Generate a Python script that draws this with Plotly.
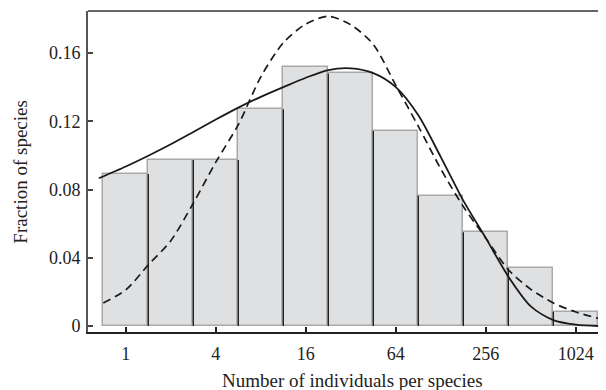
import numpy as np
import plotly.graph_objects as go

# Bin centres (number of individuals per species, octave bins)
bin_counts = [1, 2, 4, 8, 16, 32, 64, 128, 256, 512, 1024]
fractions = [0.0891, 0.0973, 0.0973, 0.127, 0.152, 0.148, 0.1143, 0.0764, 0.0549, 0.0338, 0.0084]

# Solid curve (x in log2 of individuals)
solid_x = [-0.6, 0.0, 0.5, 1.0, 1.5, 2.0, 2.5, 3.0, 3.5, 4.0, 4.5, 5.0, 5.5, 6.0, 6.5, 7.0, 7.5, 8.0,
           8.5, 9.0, 9.5, 10.0, 10.5]
solid_y = [0.0866, 0.0935, 0.0998, 0.1065, 0.1137, 0.1210, 0.1280, 0.1343, 0.1400, 0.1455, 0.1500, 0.1510,
           0.1482, 0.1400, 0.1235, 0.0990, 0.0735, 0.0515, 0.0290, 0.0115, 0.0035, 0.0008, 0.0]

# Dashed curve
dash_x = [-0.5, 0.0, 0.5, 1.0, 1.5, 2.0, 2.5, 3.0, 3.5, 4.0, 4.5, 5.0, 5.5, 6.0, 6.5, 7.0, 7.5, 8.0,
          8.5, 9.0, 9.5, 10.0, 10.5]
dash_y = [0.0135, 0.0212, 0.0358, 0.0500, 0.0720, 0.0960, 0.1180, 0.1460, 0.1660, 0.1770, 0.1815, 0.1765,
          0.1650, 0.1410, 0.1170, 0.0920, 0.0700, 0.0515, 0.0330, 0.0215, 0.0135, 0.0082, 0.0045]

x_tick_labels = ["1", "4", "16", "64", "256", "1024"]
y_tick_labels = ["0", "0.04", "0.08", "0.12", "0.16"]

xpos = np.log2(bin_counts)
x_tick_vals = np.log2([float(t) for t in x_tick_labels])
y_tick_vals = [float(t) for t in y_tick_labels]

FONT = "Liberation Serif"

fig = go.Figure()
fig.add_trace(go.Bar(
    x=xpos, y=fractions, width=1.0,
    marker=dict(color="#dfe0e2", line=dict(color="#a9a9a9", width=1.5)),
    showlegend=False, hoverinfo="skip"))

# dark dividers between adjacent bars (up to the lower of the two)
div_x, div_y = [], []
for i in range(len(fractions) - 1):
    xb = (xpos[i] + xpos[i + 1]) / 2
    div_x += [xb, xb, None]
    div_y += [0, min(fractions[i], fractions[i + 1]), None]
fig.add_trace(go.Scatter(x=div_x, y=div_y, mode="lines",
                         line=dict(color="#1a1a1a", width=1.3), showlegend=False, hoverinfo="skip"))

fig.add_trace(go.Scatter(x=solid_x, y=solid_y, mode="lines", line_shape="spline",
                         line=dict(color="#1a1a1a", width=1.8, smoothing=0.8), showlegend=False))
fig.add_trace(go.Scatter(x=dash_x, y=dash_y, mode="lines", line_shape="spline",
                         line=dict(color="#1a1a1a", width=1.7, dash="8px,5px", smoothing=0.8),
                         showlegend=False))

fig.update_layout(
    width=598, height=382,
    margin=dict(l=80, r=0, t=3, b=58, autoexpand=False),
    paper_bgcolor="white", plot_bgcolor="white",
    font=dict(family=FONT, size=18, color="#222"),
    bargap=0,
    xaxis=dict(range=[-0.84, 10.67], tickvals=x_tick_vals, ticktext=x_tick_labels,
               ticks="inside", ticklen=5, tickwidth=1.5, tickcolor="#222",
               showline=True, linecolor="#222", linewidth=2, showgrid=False, zeroline=False,
               ticklabelstandoff=4, automargin=False),
    yaxis=dict(range=[-0.0035, 0.1846], tickvals=y_tick_vals, ticktext=y_tick_labels,
               ticks="inside", ticklen=5, tickwidth=1.5, tickcolor="#444",
               showline=True, linecolor="#555", linewidth=2, showgrid=False, zeroline=False,
               ticklabelstandoff=2, automargin=False),
    shapes=[dict(type="line", xref="paper", yref="paper", x0=0, x1=1, y0=1, y1=1,
                 line=dict(color="#666", width=2))],
    annotations=[
        dict(text="Number of individuals per species", xref="paper", yref="paper",
             x=0.51, y=-0.15, xanchor="center", yanchor="middle", showarrow=False,
             font=dict(family=FONT, size=19, color="#222")),
        dict(text="Fraction of species", xref="paper", yref="paper",
             x=-0.131, y=0.5, xanchor="center", yanchor="middle", textangle=-90, showarrow=False,
             font=dict(family=FONT, size=19, color="#222")),
    ],
)

fig.write_html("out.html")
